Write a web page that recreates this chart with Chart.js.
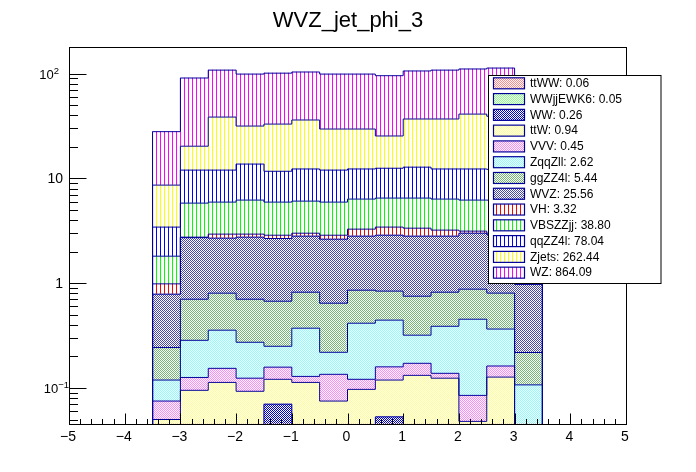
<!DOCTYPE html>
<html>
<head>
<meta charset="utf-8">
<script src="https://cdn.jsdelivr.net/npm/chart.js@4.4.0/dist/chart.umd.min.js"></script>
<style>
  html, body { margin: 0; padding: 0; background: #fff; }
  #wrap { width: 696px; height: 472px; }
</style>
</head>
<body>
<div id="wrap"><canvas id="histChart" width="696" height="472"></canvas></div>
<script>
// jet phi binning
var binEdges = [-3.5, -3, -2.5, -2, -1.5, -1, -0.5, 0, 0.5, 1, 1.5, 2, 2.5, 3, 3.5];

// stack order, bottom to top
var sampleNames = ['ttWW', 'WWjjEWK6', 'WW', 'ttW', 'VVV', 'ZqqZll', 'ggZZ4l', 'WVZ', 'VH', 'VBSZZjj', 'qqZZ4l', 'Zjets', 'WZ'];
var sampleYields = [0.06, 0.05, 0.26, 0.94, 0.45, 2.62, 5.44, 25.56, 3.32, 38.80, 78.04, 262.44, 864.09];

// bin contents per sample
var ttWW     = [0.003, 0.004, 0.005, 0.004, 0.005, 0.006, 0.004, 0.005, 0.005, 0.004, 0.005, 0.004, 0.005, 0.002];
var WWjjEWK6 = [0.002, 0.004, 0.004, 0.004, 0.005, 0.004, 0.004, 0.004, 0.004, 0.004, 0.004, 0.004, 0.004, 0.002];
var WW       = [0.006, 0.015, 0.012, 0.018, 0.060, 0.014, 0.016, 0.012, 0.044, 0.015, 0.013, 0.010, 0.016, 0.005];
var ttW      = [0.039, 0.072, 0.092, 0.067, 0.051, 0.089, 0.051, 0.076, 0.066, 0.109, 0.102, 0.030, 0.102, 0.020];
var VVV      = [0.025, 0.031, 0.041, 0.031, 0.037, 0.016, 0.060, 0.024, 0.040, 0.040, 0.014, 0.037, 0.035, 0.005];
var ZqqZll   = [0.044, 0.159, 0.202, 0.149, 0.092, 0.243, 0.084, 0.294, 0.285, 0.147, 0.250, 0.368, 0.203, 0.073];
var ggZZ4l   = [0.124, 0.418, 0.447, 0.430, 0.423, 0.448, 0.425, 0.442, 0.396, 0.432, 0.432, 0.424, 0.439, 0.111];
var WVZ      = [0.542, 2.017, 1.887, 2.047, 1.997, 1.990, 1.986, 1.953, 2.031, 2.059, 1.990, 2.123, 2.097, 0.759];
var VH       = [0.200, 0.030, 0.250, 0.190, 0.200, 0.190, 0.240, 0.470, 0.560, 0.540, 0.400, 0.140, 0.100, 0.002];
var VBSZZjj  = [0.825, 3.06, 3.00, 3.27, 3.07, 3.07, 3.07, 3.07, 3.06, 3.14, 3.14, 3.07, 3.20, 0.92];
var qqZZ4l   = [1.62, 6.19, 6.06, 7.49, 5.76, 6.23, 6.06, 5.95, 6.01, 6.31, 5.95, 6.09, 6.00, 1.70];
var Zjets    = [5.2, 8.3, 26.5, 17.9, 21.3, 23.8, 17.6, 17.3, 12.9, 24.1, 24.6, 28.8, 27.0, 7.0];
var WZ       = [19.3, 70.5, 69.5, 67.4, 68.0, 67.5, 69.4, 69.4, 70.1, 69.1, 71.1, 69.6, 73.8, 18.0];

var sampleValues = [ttWW, WWjjEWK6, WW, ttW, VVV, ZqqZll, ggZZ4l, WVZ, VH, VBSZZjj, qqZZ4l, Zjets, WZ];

// axes
var xMin = -5, xMax = 5;
var yMin = 0.0453, yMax = 179.5;
var xTicks = [-5, -4, -3, -2, -1, 0, 1, 2, 3, 4, 5];
var xTickLabels = ['\u22125', '\u22124', '\u22123', '\u22122', '\u22121', '0', '1', '2', '3', '4', '5'];
var yTicks = [0.1, 1, 10, 100];
var yTickBase = ['10', '1', '10', '10'];
var yTickExp = ['\u22121', '', '', '2'];

var canvas = document.getElementById('histChart');
var ctx = canvas.getContext('2d');

// ROOT-like fill patterns
function checker(color) {
  var c = document.createElement('canvas');
  c.width = 2; c.height = 2;
  var g = c.getContext('2d');
  g.fillStyle = '#ffffff'; g.fillRect(0, 0, 2, 2);
  g.fillStyle = color; g.fillRect(0, 0, 1, 1); g.fillRect(1, 1, 1, 1);
  return ctx.createPattern(c, 'repeat');
}
function vlines(color) {
  var c = document.createElement('canvas');
  c.width = 4; c.height = 1;
  var g = c.getContext('2d');
  g.fillStyle = '#ffffff'; g.fillRect(0, 0, 4, 1);
  g.fillStyle = color; g.fillRect(0, 0, 1, 1);
  return ctx.createPattern(c, 'repeat');
}

var fills = [
  checker('#ff8888'), checker('#88ff88'), checker('#0000dd'), checker('#ffff88'),
  checker('#ff88ff'), checker('#88ffff'), checker('#72b872'), checker('#4848b0'),
  vlines('#ff0000'), vlines('#00ff00'), vlines('#0000ff'), vlines('#ffff00'), vlines('#ff00ff')
];
var lineColor = '#000099';

var datasets = [];
var cum = binEdges.slice(1).map(function() { return 0; });
sampleNames.forEach(function(name, i) {
  datasets.push({
    type: 'bar',
    label: name,
    data: sampleValues[i].map(function(v, b) {
      return { x: (binEdges[b] + binEdges[b + 1]) / 2, y: v };
    }),
    backgroundColor: fills[i],
    borderWidth: 0,
    barPercentage: 1,
    categoryPercentage: 1,
    order: 1
  });
  // outline of the stacked sum (step contour)
  cum = cum.map(function(c, b) { return c + sampleValues[i][b]; });
  var pts = [{ x: binEdges[0], y: yMin }];
  cum.forEach(function(c, b) { pts.push({ x: binEdges[b], y: c }); });
  pts.push({ x: binEdges[binEdges.length - 1], y: yMin });
  datasets.push({
    type: 'line',
    label: name + '_line',
    data: pts,
    stack: 'outline' + i,
    borderColor: lineColor,
    borderWidth: 1,
    pointRadius: 0,
    fill: false,
    stepped: true,
    order: 0
  });
});

var font = '"Liberation Sans", Arial, Helvetica, sans-serif';

var rootStyle = {
  id: 'rootStyle',
  afterDraw: function(chart) {
    var c = chart.ctx, a = chart.chartArea;
    var xs = chart.scales.x, ys = chart.scales.y;
    c.save();
    c.strokeStyle = '#000'; c.lineWidth = 1;
    // frame
    c.strokeRect(Math.round(a.left) + 0.5, Math.round(a.top) + 0.5,
                 Math.round(a.right - a.left), Math.round(a.bottom - a.top));
    var bottom = Math.round(a.bottom) + 0.5, left = Math.round(a.left) + 0.5;
    // x ticks
    c.beginPath();
    for (var i = 0; i < xTicks.length; i++) {
      var px = Math.round(xs.getPixelForValue(xTicks[i])) + 0.5;
      c.moveTo(px, bottom); c.lineTo(px, bottom - 11);
      if (i < xTicks.length - 1) {
        for (var k = 1; k < 5; k++) {
          var v = xTicks[i] + k * (xTicks[i + 1] - xTicks[i]) / 5;
          var mx = Math.round(xs.getPixelForValue(v)) + 0.5;
          c.moveTo(mx, bottom); c.lineTo(mx, bottom - 5.5);
        }
      }
    }
    // y ticks (log)
    for (var d = Math.floor(Math.log10(yMin)); d <= Math.ceil(Math.log10(yMax)); d++) {
      for (var m = 1; m < 10; m++) {
        var val = m * Math.pow(10, d);
        if (val < yMin || val > yMax) continue;
        var py = Math.round(ys.getPixelForValue(val)) + 0.5;
        c.moveTo(left, py); c.lineTo(left + (m === 1 ? 17 : 8.5), py);
      }
    }
    c.stroke();

    // x labels
    c.fillStyle = '#000';
    c.font = '14px ' + font;
    c.textAlign = 'center'; c.textBaseline = 'alphabetic';
    xTicks.forEach(function(t, i) {
      c.fillText(xTickLabels[i], xs.getPixelForValue(t) - 1, a.bottom + 17);
    });

    // y labels
    yTicks.forEach(function(t, i) {
      var py = ys.getPixelForValue(t);
      c.textBaseline = 'middle';
      if (!yTickExp[i]) {
        c.font = '14px ' + font; c.textAlign = 'right';
        c.fillText(yTickBase[i], a.left - 6, py + 0.5);
      } else {
        c.font = '13px ' + font;
        var wb = c.measureText(yTickBase[i]).width;
        c.font = '9.5px ' + font;
        var we = c.measureText(yTickExp[i]).width;
        var right = yTickExp[i].charAt(0) === '\u2212' ? a.left : a.left - 10;
        c.textAlign = 'left';
        c.font = '13px ' + font;
        c.fillText(yTickBase[i], right - we - wb, py + 1.5);
        c.font = '9.5px ' + font;
        c.fillText(yTickExp[i], right - we, py - 2.5);
      }
    });

    // title
    c.font = '22px ' + font;
    c.textAlign = 'center'; c.textBaseline = 'alphabetic';
    c.fillText('WVZ_jet_phi_3', 348, 27);

    // legend box
    var lx = 488.5, ly = 75.5, lw = 172.5, lh = 208;
    c.fillStyle = '#fff';
    c.fillRect(lx, ly, lw, lh);
    c.strokeStyle = '#000';
    c.strokeRect(lx, ly, lw, lh);
    c.font = '12px ' + font;
    c.textAlign = 'left'; c.textBaseline = 'middle';
    sampleNames.forEach(function(name, i) {
      var cy = 83.3 + i * 15.78;
      c.fillStyle = fills[i];
      c.fillRect(493.5, cy - 5.5, 31, 11);
      c.strokeStyle = lineColor; c.lineWidth = 1.2;
      c.strokeRect(493.5, cy - 5.5, 31, 11);
      c.fillStyle = '#000';
      c.fillText(name + ': ' + sampleYields[i].toFixed(2), 530, cy + 0.5);
    });
    c.restore();
  }
};

var chart = new Chart(ctx, {
  type: 'bar',
  data: { datasets: datasets },
  options: {
    responsive: false,
    animation: false,
    layout: { padding: { left: 69, right: 70, top: 47, bottom: 48 } },
    plugins: {
      legend: { display: false },
      tooltip: { enabled: false },
      title: { display: false }
    },
    scales: {
      x: { type: 'linear', min: xMin, max: xMax, display: false, stacked: true, offset: false, ticks: { stepSize: 1 } },
      y: { type: 'logarithmic', min: yMin, max: yMax, display: false, stacked: true }
    }
  },
  plugins: [rootStyle]
});
</script>
</body>
</html>
